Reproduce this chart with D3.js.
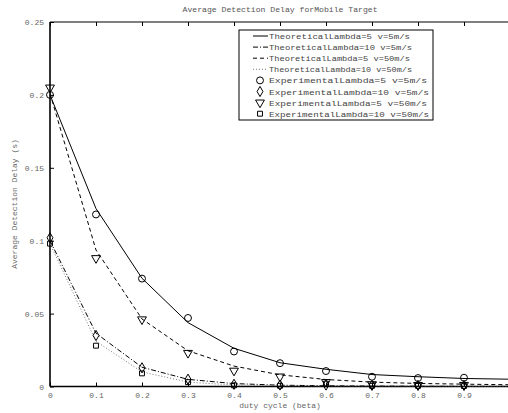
<!DOCTYPE html>
<html><head><meta charset="utf-8">
<script src="https://d3js.org/d3.v7.min.js"></script>
<style>body{margin:0;background:#fff}svg{display:block}</style>
</head><body>
<script>
const betaTheory = [0,0.1,0.2,0.3,0.4,0.5,0.6,0.7,0.8,0.9,1.0];
const betaExp = [0,0.1,0.2,0.3,0.4,0.5,0.6,0.7,0.8,0.9];
const theoL5v5   = [0.200,0.122,0.0742,0.0438,0.0262,0.0163,0.0118,0.0082,0.0067,0.0055,0.0050];
const theoL10v5  = [0.100,0.0365,0.0132,0.0049,0.0020,0.0009,0.0005,0.0003,0.0002,0.0001,0.0001];
const theoL5v50  = [0.201,0.0936,0.0463,0.0245,0.0140,0.0080,0.0048,0.0030,0.0021,0.0016,0.0012];
const theoL10v50 = [0.098,0.031,0.0100,0.0030,0.0010,0.0004,0.0002,0.0001,0.0001,0.0000,0.0000];
const expL5v5   = [0.200,0.118,0.074,0.047,0.024,0.016,0.0106,0.0067,0.0058,0.0060];
const expL10v5  = [0.102,0.035,0.0128,0.0050,0.0015,0.0010,0.0010,0.0008,0.0008,0.0008];
const expL5v50  = [0.205,0.088,0.046,0.023,0.0108,0.0068,0.0030,0.0015,0.0010,0.0010];
const expL10v50 = [0.098,0.028,0.009,0.003,0.0008,0.0005,0.0020,0.0005,0.0004,0.0003];
const xTicks = [0,0.1,0.2,0.3,0.4,0.5,0.6,0.7,0.8,0.9];
const yTicks = [0,0.05,0.1,0.15,0.2,0.25];
const yTickLabels = ["0","0.05","0.1","0.15","0.2","0.25"];
const legendLabels = [
  "TheoreticalLambda=5 v=5m/s","TheoreticalLambda=10 v=5m/s","TheoreticalLambda=5 v=50m/s","TheoreticalLambda=10 v=50m/s",
  "ExperimentalLambda=5 v=5m/s","ExperimentalLambda=10 v=5m/s","ExperimentalLambda=5 v=50m/s","ExperimentalLambda=10 v=50m/s"];

const W=508,H=413, L=50, R=510, T=22, B=386.5;
const font = "'Liberation Mono', monospace";
const svg = d3.select("body").append("svg").attr("width",W).attr("height",H);
const x = d3.scaleLinear().domain([0,1]).range([L,R]);
const y = d3.scaleLinear().domain([0,0.25]).range([B,T]);

svg.append("defs").append("clipPath").attr("id","clip").append("rect")
  .attr("x",L).attr("y",T).attr("width",R-L).attr("height",B-T);

const gx = svg.append("g").attr("transform",`translate(0,${B})`)
  .call(d3.axisBottom(x).tickValues(xTicks).tickSize(-4).tickPadding(6).tickFormat(d3.format("~g")));
const gxt = svg.append("g").attr("transform",`translate(0,${T})`)
  .call(d3.axisTop(x).tickValues(xTicks).tickSize(-4).tickFormat(""));
const gy = svg.append("g").attr("transform",`translate(${L},0)`)
  .call(d3.axisLeft(y).tickValues(yTicks).tickSize(-4).tickPadding(6).tickFormat((d,i)=>yTickLabels[i]));
[gx,gxt,gy].forEach(g=>{
  g.selectAll(".domain").attr("stroke","#000").attr("stroke-width",1.6);
  g.selectAll(".tick line").attr("stroke","#000");
  g.selectAll("text").attr("font-family",font).attr("font-size",8).attr("fill","#666");
});
gx.select(".domain").attr("d",`M${L},0H${R}`);
gxt.select(".domain").attr("d",`M${L},0H${R}`).attr("stroke-width",1.2);
gy.select(".domain").attr("d",`M0,${B}V${T}`);

const plot = svg.append("g").attr("clip-path","url(#clip)");
const line = d3.line().x((d,i)=>x(betaTheory[i])).y(d=>y(d));
const theo = [
  {v:theoL5v5, dash:null, color:"#000"},
  {v:theoL10v5, dash:"5,2,1,2", color:"#000"},
  {v:theoL5v50, dash:"4,3", color:"#000"},
  {v:theoL10v50, dash:"1,2", color:"#777"}];
theo.forEach(s=>{
  plot.append("path").attr("d",line(s.v)).attr("fill","none").attr("stroke",s.color)
    .attr("stroke-width",1).attr("stroke-dasharray",s.dash);
});

const sym = [
  d3.symbol().type(d3.symbolCircle).size(38),
  d3.symbol().type(d3.symbolDiamond).size(30),
  d3.symbol().type(d3.symbolTriangle).size(34),
  d3.symbol().type(d3.symbolSquare).size(24)];
const rot = [0,0,180,0];
const exps = [expL5v5,expL10v5,expL5v50,expL10v50];
exps.forEach((arr,k)=>{
  svg.append("g").selectAll("path").data(arr).join("path")
    .attr("d",sym[k]())
    .attr("transform",(d,i)=>`translate(${x(betaExp[i])},${y(d)}) rotate(${rot[k]})`)
    .attr("fill","none").attr("stroke","#000").attr("stroke-width",1);
});

svg.append("text").attr("x",280).attr("y",12).attr("text-anchor","middle")
  .attr("font-family",font).attr("font-size",8).attr("fill","#555")
  .attr("textLength",195).attr("lengthAdjust","spacingAndGlyphs")
  .text("Average Detection Delay forMobile Target");
svg.append("text").attr("x",280).attr("y",408).attr("text-anchor","middle")
  .attr("font-family",font).attr("font-size",8).attr("fill","#666")
  .text("duty cycle (beta)");
svg.append("text").attr("transform","translate(17,204) rotate(-90)").attr("text-anchor","middle")
  .attr("font-family",font).attr("font-size",8).attr("fill","#666")
  .text("Average Detection Delay (s)");

const lg = svg.append("g");
lg.append("rect").attr("x",239).attr("y",30).attr("width",194).attr("height",90)
  .attr("fill","#fff").attr("stroke","#000").attr("stroke-width",1);
legendLabels.forEach((t,i)=>{
  const yy = 36 + i*11.1;
  if(i<4){
    lg.append("line").attr("x1",253).attr("x2",268).attr("y1",yy).attr("y2",yy)
      .attr("stroke",theo[i].color).attr("stroke-width",1).attr("stroke-dasharray",theo[i].dash);
  } else {
    const k=i-4;
    lg.append("path").attr("d",sym[k]()).attr("transform",`translate(260,${yy}) rotate(${rot[k]})`)
      .attr("fill","none").attr("stroke","#000");
  }
  lg.append("text").attr("x",269).attr("y",yy+3).attr("font-family",font).attr("font-size",8)
    .attr("fill","#444").attr("textLength", i<4 ? (i===1||i===3?143:141) : (i===5||i===7?160:158))
    .attr("lengthAdjust","spacingAndGlyphs").text(t);
});
</script>
</body></html>
